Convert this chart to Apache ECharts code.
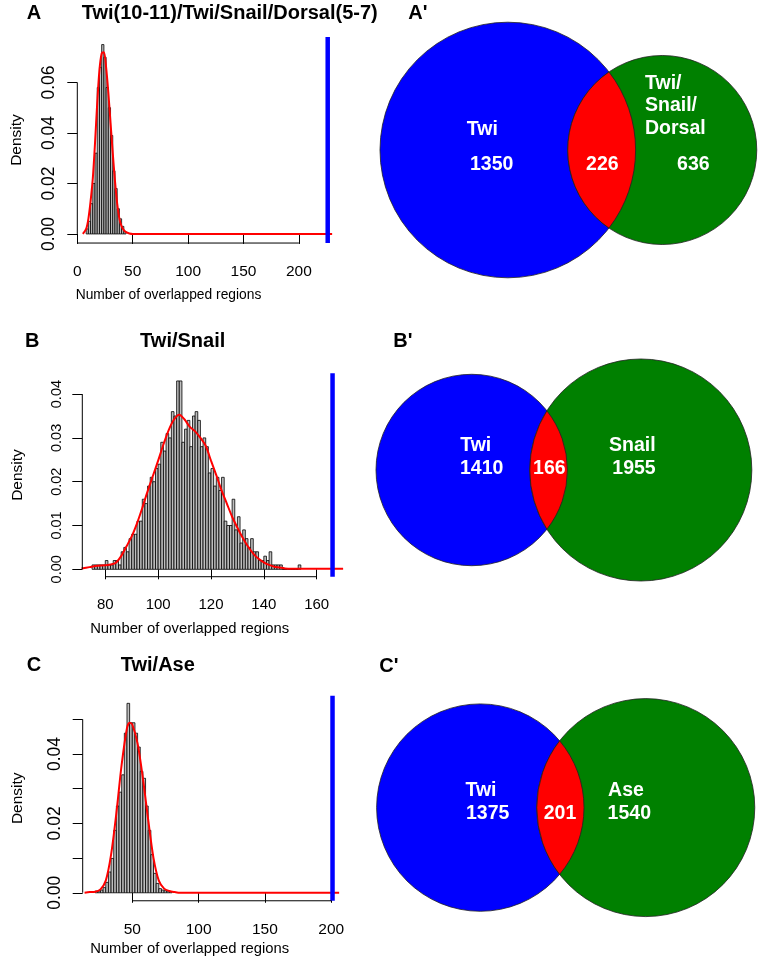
<!DOCTYPE html>
<html><head><meta charset="utf-8">
<script src="https://cdn.jsdelivr.net/npm/echarts@6/dist/echarts.min.js"></script>
<style>html,body{margin:0;padding:0;background:#fff}#c{width:762px;height:963px}</style>
</head><body><div id="c"></div>
<script>
// ---------------- DATA ----------------
// Panel A histogram (bin width 2)
const histABins = [8,10,12,14,16,18,20,22,24,26,28,30,32,34,36,38,40,42];
const histADens = [0.002,0.005,0.012,0.020,0.032,0.058,0.066,0.075,0.070,0.058,0.050,0.039,0.025,0.018,0.010,0.006,0.003,0.001];
const densAX = [5,8,10,12,14,16,18,20,22,24,26,28,30,32,34,36,38,40,42,44,47,50,60,100,150,200,230];
const densAY = [0,0.002,0.006,0.013,0.022,0.036,0.052,0.065,0.0715,0.072,0.066,0.056,0.044,0.032,0.021,0.012,0.006,0.003,0.0015,0.0007,0.0002,0,0,0,0,0,0];
// Panel B histogram (bin width 1)
const histBBins = [75,76,77,78,79,80,81,82,83,84,85,86,87,88,89,90,91,92,93,94,95,96,97,98,99,100,101,102,103,104,105,106,107,108,109,110,111,112,113,114,115,116,117,118,119,120,121,122,123,124,125,126,127,128,129,130,131,132,133,134,135,136,137,138,139,140,141,142,143,144,145,146,147,148,149,150,151,152,153];
const histBDens = [0.001,0.001,0.001,0.001,0.001,0.002,0.001,0.001,0.002,0.002,0.001,0.004,0.005,0.004,0.007,0.008,0.008,0.011,0.011,0.016,0.015,0.019,0.021,0.020,0.023,0.024,0.029,0.027,0.031,0.030,0.036,0.035,0.043,0.043,0.029,0.032,0.034,0.028,0.035,0.036,0.034,0.028,0.030,0.028,0.022,0.023,0.019,0.021,0.018,0.021,0.011,0.010,0.010,0.016,0.009,0.012,0.006,0.009,0.007,0.005,0.007,0.004,0.004,0.002,0.002,0.003,0.002,0.004,0.001,0.001,0.001,0.001,0,0,0,0,0,0,0.001];
const densBX = [71,74,77,80,82,84,86,88,90,92,94,96,98,100,102,104,106,108,110,112,114,116,118,120,122,124,126,128,130,132,134,136,138,140,142,144,146,148,150,155,160,165,170];
const densBY = [0.0002,0.0005,0.0008,0.0009,0.0011,0.0015,0.003,0.0052,0.0075,0.0105,0.014,0.0178,0.0213,0.0248,0.0285,0.0318,0.0342,0.0353,0.0342,0.0325,0.0315,0.030,0.0282,0.0248,0.0215,0.018,0.015,0.012,0.0095,0.0072,0.0052,0.0036,0.0024,0.0016,0.0010,0.0006,0.0004,0.0002,0.0001,0.0001,0.0001,0.0001,0.0001];
// Panel C histogram (bin width 2)
const histCBins = [22,24,26,28,30,32,34,36,38,40,42,44,46,48,50,52,54,56,58,60,62,64,66,68,70,72,74,76,78];
const histCDens = [0.0005,0.0005,0.0008,0.0015,0.003,0.006,0.0099,0.018,0.025,0.029,0.034,0.046,0.0546,0.049,0.049,0.046,0.042,0.035,0.033,0.025,0.018,0.011,0.0056,0.0027,0.0012,0.0008,0.0006,0.0005,0.0003];
const densCX = [14,18,22,26,30,34,38,42,46,48,50,54,58,62,66,70,74,78,82,86,100,150,206];
const densCY = [0,0.0002,0.0003,0.001,0.0035,0.011,0.023,0.037,0.0475,0.049,0.0485,0.043,0.033,0.021,0.010,0.0035,0.0012,0.0005,0.0002,0,0,0,0];
// Tick values
const xTicksA = [0,50,100,150,200], yTicksA = [0,0.02,0.04,0.06], yLabelsA = [0,0.02,0.04,0.06];
const xTicksB = [80,100,120,140,160], yTicksB = [0,0.01,0.02,0.03,0.04], yLabelsB = [0,0.01,0.02,0.03,0.04];
const xTicksC = [50,100,150,200], yTicksC = [0,0.01,0.02,0.03,0.04,0.05], yLabelsC = [0,0.02,0.04];
// Venn counts
const vennLeftName = ['Twi','Twi','Twi'];
const vennRightName = ['Twi/\nSnail/\nDorsal','Snail','Ase'];
const vennLeftOnly = [1350,1410,1375];
const vennOverlap = [226,166,201];
const vennRightOnly = [636,1955,1540];
const histTitles = ['Twi(10-11)/Twi/Snail/Dorsal(5-7)','Twi/Snail','Twi/Ase'];

// ---------------- LAYOUT ----------------
const FAM = '"Liberation Sans", Arial, Helvetica, sans-serif';
const hp = [
  {bins:histABins, w:2, dens:histADens, kx:densAX, ky:densAY, xt:xTicksA, yt:yTicksA, yl:yLabelsA,
   left:77.3, xmin:0, xmax:235, pxX:1.108, top:37, ymin:-0.0036, ymax:0.078, pxY:2525, gap:53,
   xfs:15.5, yfs:17.5, ym:19},
  {bins:histBBins, w:1, dens:histBDens, kx:densBX, ky:densBY, xt:xTicksB, yt:yTicksB, yl:yLabelsB,
   left:82.3, xmin:71.3, xmax:170, pxX:2.6425, top:373.3, ymin:-0.00169, ymax:0.04475, pxY:4380, gap:56.5,
   xfs:15, yfs:14.5, ym:18},
  {bins:histCBins, w:2, dens:histCDens, kx:densCX, ky:densCY, xt:xTicksC, yt:yTicksC, yl:yLabelsC,
   left:82.7, xmin:12.6, xmax:208, pxX:1.326, top:695.7, ymin:-0.0023, ymax:0.0568, pxY:3470, gap:57,
   xfs:15.5, yfs:17.5, ym:19}
];
const vl = [
  {cxL:507.8, cy:150, s:5.706, top:0},
  {cxL:471.7, cy:470, s:4.273, top:320},
  {cxL:480.3, cy:807.6, s:4.63, top:660}
];

const grid = [], xAxis = [], yAxis = [], series = [];
hp.forEach((p, i) => {
  grid.push({left:p.left, top:p.top, width:(p.xmax-p.xmin)*p.pxX, height:(p.ymax-p.ymin)*p.pxY, outerBoundsMode:'none', containLabel:false});
  xAxis.push({gridIndex:i, type:'value', min:p.xmin, max:p.xmax,
    axisLine:{show:false}, splitLine:{show:false},
    axisTick:{show:true, length:10, customValues:p.xt, lineStyle:{color:'#000', width:1}},
    axisLabel:{customValues:p.xt, margin:21, fontSize:p.xfs, color:'#000', fontFamily:FAM}});
  yAxis.push({gridIndex:i, type:'value', min:p.ymin, max:p.ymax,
    name:'Density', nameLocation:'middle', nameGap:p.gap,
    nameTextStyle:{fontSize:15.5, color:'#000', fontFamily:FAM},
    axisLine:{show:false}, splitLine:{show:false},
    axisTick:{show:true, length:10, customValues:p.yt, lineStyle:{color:'#000', width:1}},
    axisLabel:{customValues:p.yl, rotate:90, margin:p.ym, fontSize:p.yfs, color:'#000', fontFamily:FAM,
      formatter: v => Number(v).toFixed(2)}});
  series.push({type:'custom', xAxisIndex:i, yAxisIndex:i, clip:false,
    data:p.bins.map((b,j)=>[b, b+p.w, p.dens[j]]), encode:{x:[0,1], y:[2]},
    renderItem:(params, api)=>{
      const a = api.coord([api.value(0), api.value(2)]);
      const b = api.coord([api.value(1), 0]);
      return {type:'rect', shape:{x:a[0], y:a[1], width:b[0]-a[0], height:b[1]-a[1]},
        style:{fill:'#bebebe', stroke:'#000', lineWidth:0.8}};
    }, z:2});
  series.push({type:'line', xAxisIndex:i, yAxisIndex:i, data:p.kx.map((x,j)=>[x, p.ky[j]]),
    symbol:'none', smooth:0.3, lineStyle:{color:'#ff0000', width:2}, z:3, clip:false});
  series.push({type:'line', xAxisIndex:i, yAxisIndex:i, data:[[vennOverlap[i], p.ymin],[vennOverlap[i], p.ymax]],
    symbol:'none', lineStyle:{color:'#0000ff', width:4.5}, z:4});
  // R-style axis lines spanning first..last tick
  series.push({type:'line', xAxisIndex:i, yAxisIndex:i, data:[[p.xt[0], p.ymin],[p.xt[p.xt.length-1], p.ymin]],
    symbol:'none', lineStyle:{color:'#000', width:1}, z:5, clip:false});
  series.push({type:'line', xAxisIndex:i, yAxisIndex:i, data:[[p.xmin, p.yt[0]],[p.xmin, p.yt[p.yt.length-1]]],
    symbol:'none', lineStyle:{color:'#000', width:1}, z:5, clip:false});
});

// Venn geometry: circle areas proportional to set sizes, lens area to overlap
function lensArea(r1, r2, d){
  if (d >= r1 + r2) return 0;
  if (d <= Math.abs(r1 - r2)) return Math.PI * Math.min(r1, r2) ** 2;
  const a1 = Math.acos((d*d + r1*r1 - r2*r2) / (2*d*r1));
  const a2 = Math.acos((d*d + r2*r2 - r1*r1) / (2*d*r2));
  return r1*r1*a1 + r2*r2*a2 - 0.5*Math.sqrt((-d+r1+r2)*(d+r1-r2)*(d-r1+r2)*(d+r1+r2));
}
const vennGeom = vennOverlap.map((ov, k) => {
  const r1 = Math.sqrt((vennLeftOnly[k] + ov) / Math.PI);
  const r2 = Math.sqrt((vennRightOnly[k] + ov) / Math.PI);
  let lo = Math.abs(r1 - r2), hi = r1 + r2;
  for (let it = 0; it < 80; it++) { const m = (lo + hi) / 2; if (lensArea(r1, r2, m) > ov) lo = m; else hi = m; }
  const d = (lo + hi) / 2;
  const a = (d*d + r1*r1 - r2*r2) / (2*d);
  const h = Math.sqrt(Math.max(0, r1*r1 - a*a));
  return {r1, r2, d, a, h};
});

vl.forEach((v, k) => {
  const gi = 3 + k;
  grid.push({left:360, top:v.top, width:400, height:300, outerBoundsMode:'none', containLabel:false});
  xAxis.push({gridIndex:gi, type:'value', show:false, min:-(v.cxL-360)/v.s, max:(760-v.cxL)/v.s});
  yAxis.push({gridIndex:gi, type:'value', show:false, min:-(v.top+300-v.cy)/v.s, max:(v.cy-v.top)/v.s});
  const g = vennGeom[k];
  series.push({type:'custom', xAxisIndex:gi, yAxisIndex:gi, clip:false, data:[[0,0]],
    renderItem:(params, api) => {
      const c1 = api.coord([0,0]), c2 = api.coord([g.d,0]);
      const s = api.size([1,1]);
      const R1 = g.r1*s[0], R2 = g.r2*s[0];
      const px = c1[0] + g.a*s[0], hy = g.h*s[1];
      const tx = px, ty = c1[1]-hy, by = c1[1]+hy;
      const path = `M${tx},${ty} A${R2},${R2} 0 0 0 ${tx},${by} A${R1},${R1} 0 0 0 ${tx},${ty} Z`;
      const st = {stroke:'#222', lineWidth:0.8};
      return {type:'group', children:[
        {type:'circle', shape:{cx:c1[0], cy:c1[1], r:R1}, style:Object.assign({fill:'#0000ff'}, st)},
        {type:'circle', shape:{cx:c2[0], cy:c2[1], r:R2}, style:Object.assign({fill:'#008000'}, st)},
        {type:'path', shape:{pathData:path}, style:Object.assign({fill:'#ff0000'}, st)}
      ]};
    }});
});

// ---------------- TEXT ----------------
const B20 = 'bold 20px ' + FAM, W = 'bold 19.5px ' + FAM;
function txt(t, x, y, font, align, fill, extra){
  return {type:'text', x, y, z:100, style:Object.assign({text:t, font, fill:fill||'#000', textAlign:align||'center', textVerticalAlign:'middle'}, extra||{})};
}
const graphic = [
  txt('A', 26.7, 13, B20, 'left'), txt(histTitles[0], 81.7, 13, B20, 'left'), txt("A'", 408.3, 13, B20, 'left'),
  txt('B', 25, 341, B20, 'left'), txt(histTitles[1], 182.7, 341, B20, 'center'), txt("B'", 393.3, 341, B20, 'left'),
  txt('C', 26.7, 665, B20, 'left'), txt(histTitles[2], 157.8, 665, B20, 'center'), txt("C'", 379.3, 666, B20, 'left'),
  txt('Number of overlapped regions', 168.5, 295, '13.8px ' + FAM), txt('Number of overlapped regions', 189.7, 628.5, '14.8px ' + FAM),
  txt('Number of overlapped regions', 189.7, 948.5, '14.8px ' + FAM),
  // Venn A'
  txt(vennLeftName[0], 482.3, 129.3, W, 'center', '#fff'), txt(String(vennLeftOnly[0]), 491.7, 165, W, 'center', '#fff'),
  txt(String(vennOverlap[0]), 602.3, 165, W, 'center', '#fff'),
  txt(vennRightName[0], 645, 106, W, 'left', '#fff', {lineHeight:22.7}), txt(String(vennRightOnly[0]), 693.3, 165, W, 'center', '#fff'),
  // Venn B'
  txt(vennLeftName[1], 475.7, 445.7, W, 'center', '#fff'), txt(String(vennLeftOnly[1]), 481.7, 468.3, W, 'center', '#fff'),
  txt(String(vennOverlap[1]), 549.3, 468.3, W, 'center', '#fff'),
  txt(vennRightName[1], 632.3, 445.7, W, 'center', '#fff'), txt(String(vennRightOnly[1]), 634, 468.3, W, 'center', '#fff'),
  // Venn C'
  txt(vennLeftName[2], 481, 790.7, W, 'center', '#fff'), txt(String(vennLeftOnly[2]), 487.7, 814, W, 'center', '#fff'),
  txt(String(vennOverlap[2]), 560, 814, W, 'center', '#fff'),
  txt(vennRightName[2], 626, 790.7, W, 'center', '#fff'), txt(String(vennRightOnly[2]), 629.3, 814, W, 'center', '#fff')
];

const chart = echarts.init(document.getElementById('c'), null, {renderer:'canvas'});
chart.setOption({animation:false, backgroundColor:'#fff', grid, xAxis, yAxis, series, graphic});
</script></body></html>
